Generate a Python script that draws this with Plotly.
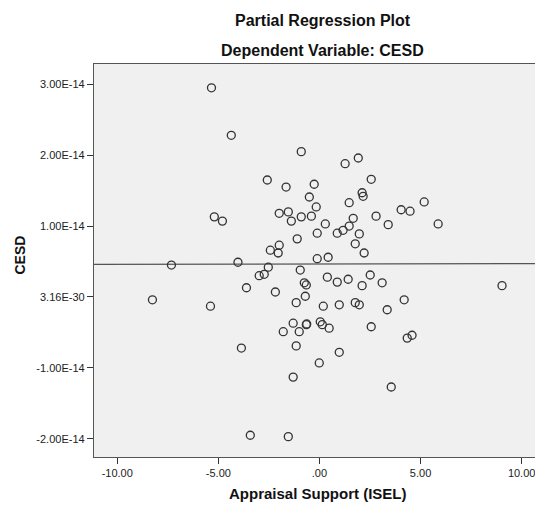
import plotly.graph_objects as go

# Appraisal Support (ISEL) residuals (x)
isel = [-5.34, -4.36, -0.90, -2.58, -1.65, -0.26, -0.50, -0.16, -5.20, -4.80,
        -1.99, -1.54, -1.39, -0.90, -0.40, -0.11, -1.10, -1.99, -2.43, -2.04,
        -4.03, -0.11, 1.27, 1.92, 2.56, 2.11, 2.16, 1.47, 0.29, 1.67,
        2.80, 4.04, 4.48, 5.18, 5.87, 3.40, 0.88, 1.17, 1.47, 1.97,
        1.77, 2.21, 0.43, -7.32, -2.53, -2.73, -2.98, -0.95, -3.61, -2.18,
        -0.75, -0.65, -0.70, -1.15, -8.26, -5.39, -1.30, -0.65, -0.63, -1.00,
        -1.79, -1.15, -3.86, -0.01, -1.30, -3.42, -1.54, 0.39, 0.88, 1.42,
        2.51, 3.10, 2.11, 0.19, 0.98, 1.77, 1.97, 3.35, 4.19, 9.03,
        0.04, 0.14, 0.48, 2.56, 4.58, 4.34, 0.98, 3.55]

# CESD residuals in units of 1E-14 (y)
cesd_e14 = [2.95, 2.28, 2.05, 1.65, 1.55, 1.59, 1.41, 1.27, 1.13, 1.07,
            1.18, 1.20, 1.07, 1.13, 1.14, 0.90, 0.82, 0.73, 0.66, 0.62,
            0.49, 0.54, 1.88, 1.96, 1.66, 1.47, 1.42, 1.33, 1.03, 1.11,
            1.14, 1.23, 1.21, 1.34, 1.03, 1.02, 0.90, 0.94, 1.00, 0.89,
            0.75, 0.62, 0.56, 0.45, 0.42, 0.32, 0.30, 0.38, 0.13, 0.07,
            0.20, 0.17, 0.01, -0.08, -0.04, -0.13, -0.37, -0.39, -0.38, -0.49,
            -0.49, -0.69, -0.72, -0.93, -1.13, -1.95, -1.97, 0.28, 0.21, 0.25,
            0.31, 0.20, 0.16, -0.13, -0.11, -0.08, -0.11, -0.18, -0.04, 0.16,
            -0.35, -0.39, -0.44, -0.42, -0.54, -0.58, -0.78, -1.27]

fit_intercept_e14 = 0.465
fit_slope_e14 = 0.00055

x_range = [-11.15, 10.66]
y_range_e14 = [-2.257, 3.286]

x_ticks = [-10, -5, 0, 5, 10]
x_ticktext = ["-10.00", "-5.00", ".00", "5.00", "10.00"]
y_ticks_e14 = [-2, -1, 0, 1, 2, 3]
y_ticktext = ["-2.00E-14", "-1.00E-14", "3.16E-30", "1.00E-14", "2.00E-14", "3.00E-14"]

scale = 1e-14
cesd = [v * scale for v in cesd_e14]
fit_x = x_range
fit_y = [(fit_intercept_e14 + fit_slope_e14 * xx) * scale for xx in fit_x]

fig = go.Figure()
fig.add_trace(go.Scatter(
    x=fit_x, y=fit_y, mode="lines",
    line=dict(color="#555555", width=1.3), hoverinfo="skip", showlegend=False))
fig.add_trace(go.Scatter(
    x=isel, y=cesd, mode="markers",
    marker=dict(symbol="circle-open", size=8, color="#333333",
                line=dict(width=1.3, color="#333333")),
    showlegend=False))

font_family = "Liberation Sans, Arial, sans-serif"
title_font = dict(size=16, color="#111111", family=font_family)
x_title_font = dict(size=15, color="#111111", family=font_family)
y_title_font = dict(size=14, color="#111111", family=font_family)

fig.update_layout(
    width=535, height=508,
    margin=dict(l=94, r=0, t=64, b=51),
    paper_bgcolor="white",
    plot_bgcolor="#f0f0f0",
    font=dict(family=font_family, size=11, color="#222222"),
    annotations=[
        dict(text="<b>Partial Regression Plot</b>", xref="paper", yref="paper",
             x=0.519, y=1, yshift=44, yanchor="middle", showarrow=False,
             font=title_font),
        dict(text="<b>Dependent Variable: CESD</b>", xref="paper", yref="paper",
             x=0.519, y=1, yshift=14, yanchor="middle", showarrow=False,
             font=title_font),
        dict(text="<b>Appraisal Support (ISEL)</b>", xref="paper", yref="paper",
             x=0.509, y=0, yshift=-36, yanchor="middle", showarrow=False,
             font=x_title_font),
        dict(text="<b>CESD</b>", xref="paper", yref="paper",
             x=0, xshift=-75, y=0.5, yshift=5, textangle=-90,
             xanchor="center", yanchor="middle", showarrow=False,
             font=y_title_font),
    ],
)
fig.update_xaxes(
    range=x_range, tickvals=x_ticks, ticktext=x_ticktext,
    showgrid=False, zeroline=False, showline=True, mirror=True,
    linecolor="#555555", linewidth=1.3,
    ticks="outside", ticklen=6, tickcolor="#333333",
    ticklabeloverflow="allow",
)
fig.update_yaxes(
    range=[v * scale for v in y_range_e14],
    tickvals=[v * scale for v in y_ticks_e14], ticktext=y_ticktext,
    showgrid=False, zeroline=False, showline=True, mirror=True,
    linecolor="#555555", linewidth=1.3,
    ticks="outside", ticklen=6, tickcolor="#333333",
)

fig.write_html(
    "out.html",
    config={"displayModeBar": False},
    post_script="document.body.style.margin='0';document.body.style.overflow='hidden';",
)
